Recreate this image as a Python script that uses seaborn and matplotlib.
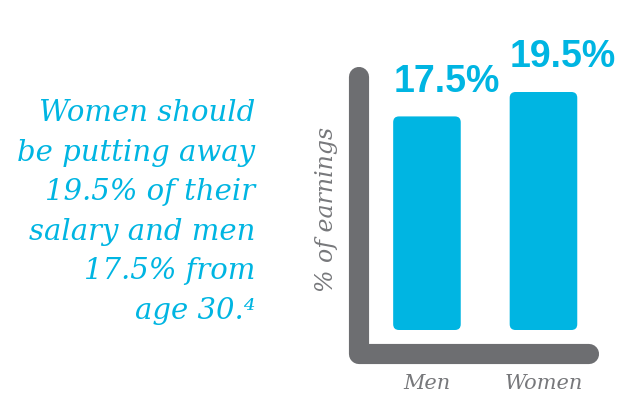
import matplotlib
matplotlib.use("Agg")
import matplotlib.pyplot as plt
import seaborn as sns
import pandas as pd
from matplotlib.patches import FancyBboxPatch
from matplotlib.lines import Line2D

# --------------------------
# Data
# --------------------------
groups = ["Men", "Women"]
savings_pct = [17.5, 19.5]
value_labels = ["17.5%", "19.5%"]
y_label = "% of earnings"
blurb = "Women should\nbe putting away\n19.5% of their\nsalary and men\n17.5% from\nage 30.\u2074"

CYAN = "#00b5e2"
GREY = "#6d6e71"
TEXT_GREY = "#77787b"

df = pd.DataFrame({"group": groups, "pct": savings_pct})

sns.set_style("white")

W, H = 626, 403
fig = plt.figure(figsize=(W / 100, H / 100), dpi=100)

def fx(px):
    return px / W

def fy(py):
    return (H - py) / H

# axes area between the grey frame lines
YMAX = 19.5 * 270 / 238
ax = fig.add_axes([fx(368), fy(330), fx(598 - 368), (330 - 60) / H])
sns.barplot(data=df, x="group", y="pct", color=CYAN, width=0.58,
            saturation=1, ax=ax)
ax.set_xlim(-0.506, 1.468)
ax.set_ylim(0, YMAX)

# swap square bars for rounded ones
for p in list(ax.patches):
    x0, y0 = p.get_x(), p.get_y()
    w, h = p.get_width(), p.get_height()
    p.remove()
    rb = FancyBboxPatch((x0, y0), w, h,
                        boxstyle="round,pad=0,rounding_size=0.05",
                        mutation_aspect=YMAX / 270 * 116.5,
                        fc=CYAN, ec="none")
    ax.add_patch(rb)

for i, (v, lab) in enumerate(zip(savings_pct, value_labels)):
    ax.annotate(lab, (i - 0.29, v), xytext=(0, 12), textcoords="offset points",
                ha="left", va="bottom", color=CYAN, fontsize=27,
                fontweight="bold", family="Liberation Sans",
                annotation_clip=False)

ax.set_xlabel("")
ax.set_ylabel("")
ax.set_yticks([])
ax.set_xticks([0, 1])
ax.set_xticklabels(groups, fontsize=15, style="italic", family="DejaVu Serif",
                   color=TEXT_GREY)
ax.tick_params(axis="x", length=0, pad=32)
sns.despine(ax=ax, left=True, bottom=True)
ax.patch.set_alpha(0)

# thick grey L-shaped frame with rounded ends
frame = Line2D([fx(359), fx(359), fx(589)], [fy(77), fy(353.5), fy(353.5)],
               transform=fig.transFigure, color=GREY, lw=14.5,
               solid_capstyle="round", solid_joinstyle="round")
fig.add_artist(frame)

fig.text(fx(327), fy(209), y_label, rotation=90, ha="center", va="center",
         fontsize=17, style="italic", family="DejaVu Serif", color=TEXT_GREY)

fig.text(fx(255), fy(212), blurb, ha="right", va="center", fontsize=21,
         style="italic", family="DejaVu Serif", color=CYAN, linespacing=1.52,
         multialignment="right")

fig.savefig("out.png", dpi=100, facecolor="white")
